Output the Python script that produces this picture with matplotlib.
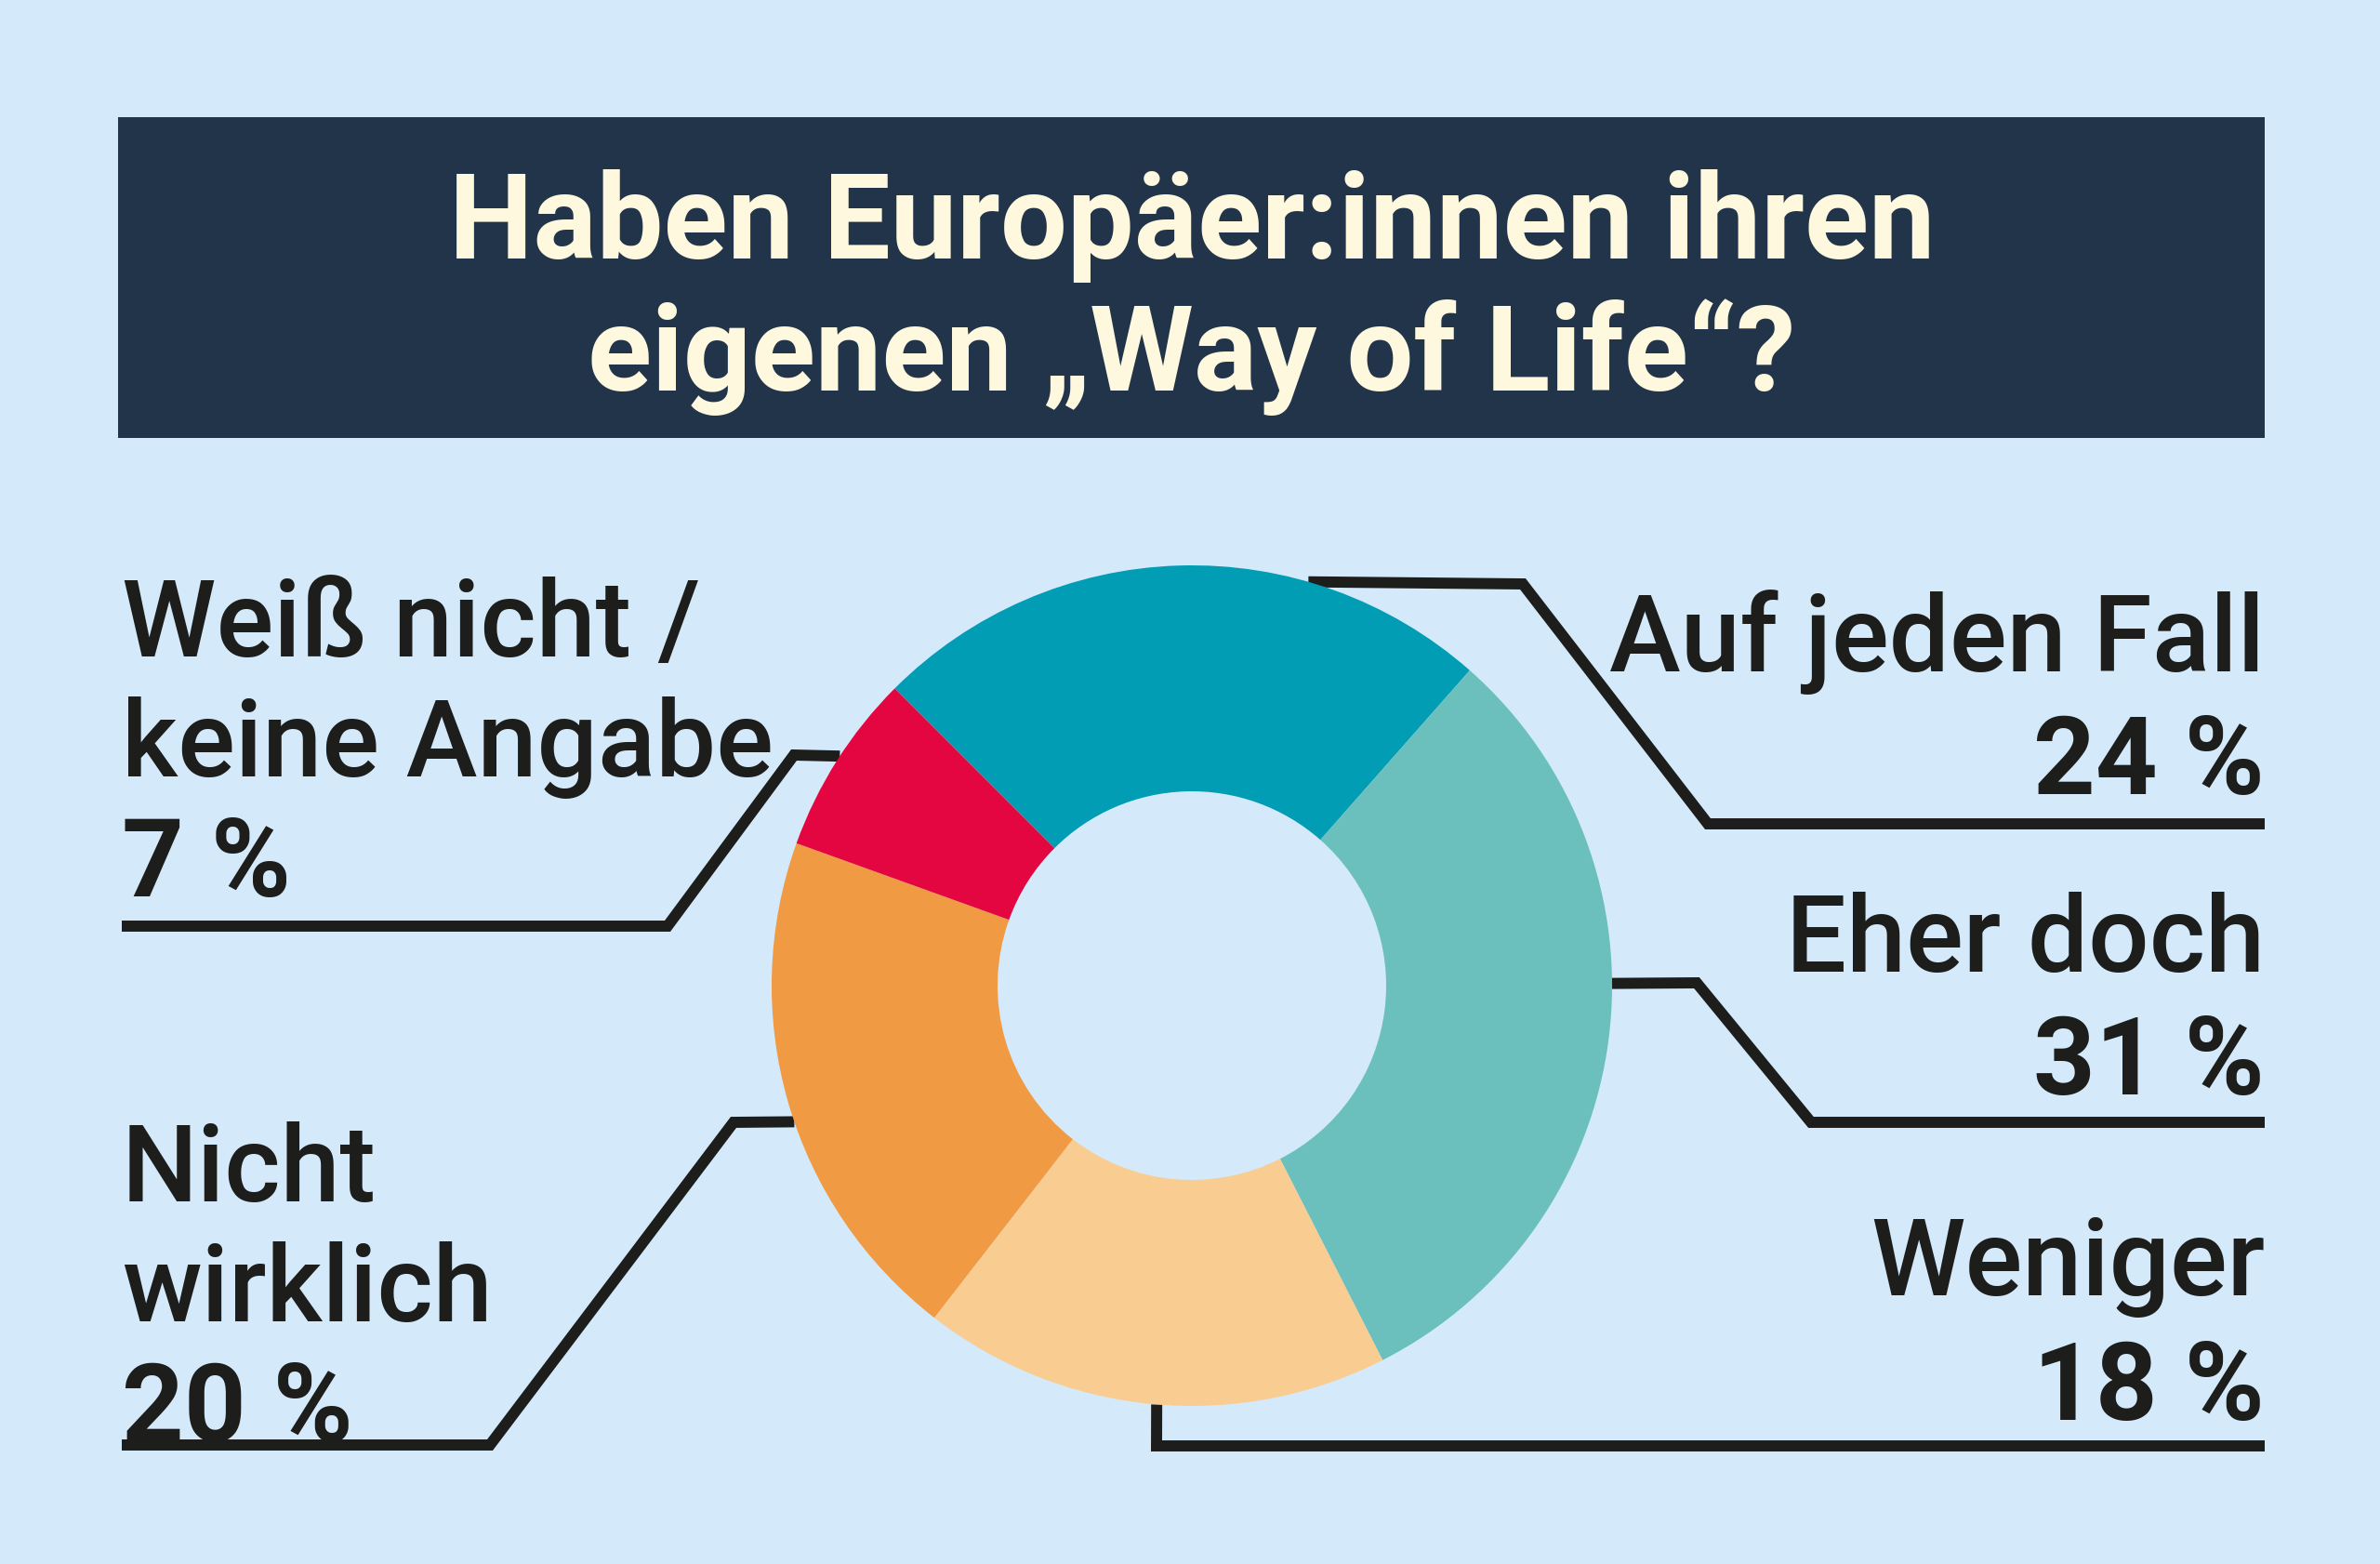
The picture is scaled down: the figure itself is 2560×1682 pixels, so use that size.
import matplotlib.pyplot as plt
import numpy as np

# Umfrage: Haben Europäer:innen ihren eigenen "Way of Life"?
categories = ["Auf jeden Fall", "Eher doch", "Weniger", "Nicht\nwirklich",
              "Weiß nicht /\nkeine Angabe"]
shares = [24, 31, 18, 20, 7]
colors = ["#009db4", "#6bc0bd", "#f9cd91", "#f09a43", "#e30641"]

title = "Haben Europäer:innen ihren\neigenen \u201eWay of Life\u201c?"

BG = "#d4eafa"
NAVY = "#22344a"
CREAM = "#fdf8de"
INK = "#1d1d1b"
LW = 8.6

# layout in pixels (y grows downward)
CX, CY = 1282, 1061
R_OUT, R_IN = 452, 209

# per label: side, text x, first baseline, line step, anchor angle on the
# ring, knee points of the leader line
layout = [
    dict(side="right", x=2436, y=722, step=132, ang=73.9,
         path=[(1638, 629), (1837, 887), (2436, 887)]),
    dict(side="right", x=2436, y=1045, step=132, ang=0.3,
         path=[(1825, 1058), (1948, 1208), (2436, 1208)]),
    dict(side="right", x=2436, y=1393, step=134, ang=-94.8,
         path=[(1244, 1556), (2436, 1556)]),
    dict(side="left", x=131, y=1292, step=129, ang=-161.1,
         path=[(789, 1208), (527, 1555), (131, 1555)]),
    dict(side="left", x=131, y=706, step=129, ang=146.9,
         path=[(854, 813), (718, 997), (131, 997)]),
]


def main():
    plt.rcParams['font.family'] = ['Roboto', 'DejaVu Sans']
    fig = plt.figure(figsize=(25.6, 16.83), dpi=100, facecolor=BG)
    ax = fig.add_axes([0, 0, 1, 1])

    # title box
    ax.add_patch(plt.Rectangle((127, 127), 2309, 345, facecolor=NAVY,
                               edgecolor='none', zorder=1))
    for i, line in enumerate(title.split("\n")):
        ax.text(1282, 278 + i * 142, line, ha='center', va='baseline',
                fontsize=92, fontweight='bold', color=CREAM, zorder=2)

    # donut, clockwise from upper left (y axis is flipped)
    ax.pie(shares, colors=colors, startangle=-135, counterclock=True,
           center=(CX, CY), radius=R_OUT, frame=True,
           wedgeprops=dict(width=R_OUT - R_IN, linewidth=0))
    ax.set_xlim(0, 2560)
    ax.set_ylim(1683, 0)
    ax.set_aspect('equal')
    ax.axis('off')

    for cat, val, lay in zip(categories, shares, layout):
        a = np.deg2rad(lay["ang"])
        x0 = CX + R_OUT * np.cos(a)
        y0 = CY - R_OUT * np.sin(a)
        pts = [(x0, y0)] + lay["path"]
        xs, ys = zip(*pts)
        ax.plot(xs, ys, color=INK, lw=LW, solid_joinstyle='miter',
                solid_capstyle='butt', zorder=0.5)

        ha = 'right' if lay["side"] == "right" else 'left'
        lines = cat.split("\n")
        for i, ln in enumerate(lines):
            ax.text(lay["x"], lay["y"] + i * lay["step"], ln, ha=ha,
                    va='baseline', fontsize=83, fontweight='medium',
                    color=INK)
        ax.text(lay["x"], lay["y"] + len(lines) * lay["step"], f"{val} %",
                ha=ha, va='baseline', fontsize=84, fontweight='bold',
                color=INK)

    fig.savefig("out.png", dpi=100, facecolor=BG)


if __name__ == '__main__':
    main()
